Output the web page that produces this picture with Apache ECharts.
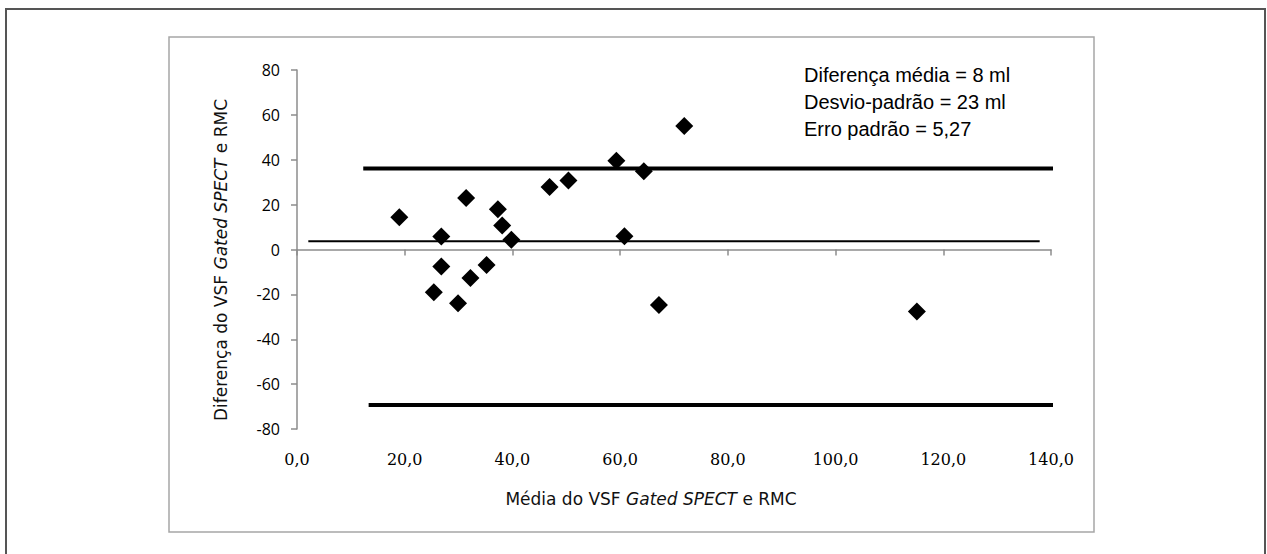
<!DOCTYPE html>
<html>
<head>
<meta charset="utf-8">
<title>Bland-Altman VSF</title>
<script src="https://cdn.jsdelivr.net/npm/echarts@6/dist/echarts.min.js"></script>
<style>
    html, body {margin: 0; padding: 0; background: #fff;}
    #chart01 {width: 1267px; height: 554px;}
</style>
</head>
<body>
<div id="chart01"></div>
<script>
// pontos: media (x) e diferenca (y)
var meanX = [19.0, 26.8, 26.8, 25.4, 29.9, 31.4, 32.2, 35.2, 37.3, 38.1, 39.8, 46.9, 50.4, 59.3, 60.8, 64.4, 67.2, 71.9, 115.1];
var diffY = [14.4, 5.8, -7.6, -19.1, -24.0, 22.9, -12.7, -6.9, 17.9, 10.7, 4.3, 27.9, 30.8, 39.5, 5.9, 34.9, -24.7, 55.0, -27.6];

// linhas horizontais (inicio e fim)
var meanLineX = [2.1, 137.9];
var meanLineY = [3.7, 3.7];
var upperLineX = [12.3, 149.5];
var upperLineY = [36.1, 36.1];
var lowerLineX = [13.3, 149.5];
var lowerLineY = [-69.3, -69.3];

var notes = ['Diferença média = 8 ml', 'Desvio-padrão = 23 ml', 'Erro padrão = 5,27'];

var chart01 = echarts.init(document.getElementById("chart01"), null, {renderer: 'svg'});

function pairs(xs, ys) {
    var out = [];
    for (var i = 0; i < xs.length; i++) {
        out.push([xs[i], ys[i]]);
    }
    return out;
}

function hLine(xs, ys, width) {
    return {
        type: 'line',
        data: pairs(xs, ys),
        symbol: 'none',
        clip: false,
        silent: true,
        lineStyle: {color: '#000', width: width, opacity: 1},
        z: 1
    };
}

var axisGray = '#8c8c8c';
var titleRich = {
    a: {fontFamily: 'DejaVu Sans', fontSize: 17, color: '#111'},
    b: {fontFamily: 'DejaVu Sans', fontSize: 17, color: '#111', fontStyle: 'italic'}
};

var noteGraphics = [];
for (var i = 0; i < notes.length; i++) {
    noteGraphics.push({
        type: 'text',
        x: 804,
        y: 75 + i * 27,
        style: {
            text: notes[i],
            fontFamily: 'Liberation Sans',
            fontSize: 20,
            fill: '#000',
            verticalAlign: 'middle'
        }
    });
}

var option = {
    backgroundColor: '#fff',
    animation: false,
    grid: {left: 297, right: 216, top: 70, bottom: 125},
    xAxis: {
        type: 'value',
        min: 0,
        max: 140,
        interval: 20,
        splitLine: {show: false},
        axisLine: {lineStyle: {color: axisGray, width: 1.5}},
        axisTick: {length: 6, lineStyle: {color: axisGray, width: 1.5}},
        axisLabel: {
            margin: 22,
            color: '#000',
            fontFamily: 'DejaVu Serif',
            fontSize: 16,
            formatter: function (v) {
                return v.toFixed(1).replace('.', ',');
            }
        },
        name: '{a|Média do VSF }{b|Gated SPECT}{a| e RMC}',
        nameLocation: 'middle',
        nameGap: 61,
        nameTextStyle: {rich: titleRich, padding: [0, 46, 0, 0]}
    },
    yAxis: {
        type: 'value',
        min: -80,
        max: 80,
        interval: 20,
        splitLine: {show: false},
        axisLine: {lineStyle: {color: axisGray, width: 1.5}},
        axisTick: {length: 6, lineStyle: {color: axisGray, width: 1.5}},
        axisLabel: {
            margin: 17,
            color: '#000',
            fontFamily: 'Open Sans',
            fontSize: 16
        },
        name: '{a|Diferença do VSF }{b|Gated SPECT}{a| e RMC}',
        nameLocation: 'middle',
        nameRotate: 90,
        nameGap: 68,
        nameTextStyle: {rich: titleRich, padding: [0, 21, 0, 0]}
    },
    graphic: [
        {
            type: 'rect',
            shape: {x: 6, y: 9, width: 1259, height: 560},
            style: {fill: 'none', stroke: '#555', lineWidth: 2},
            z: -10
        },
        {
            type: 'rect',
            shape: {x: 169, y: 37, width: 925, height: 495},
            style: {fill: 'none', stroke: '#a6a6a6', lineWidth: 1.5},
            z: -10
        }
    ].concat(noteGraphics),
    series: [
        hLine(meanLineX, meanLineY, 2),
        hLine(upperLineX, upperLineY, 4),
        hLine(lowerLineX, lowerLineY, 4),
        {
            type: 'scatter',
            data: pairs(meanX, diffY),
            symbol: 'diamond',
            symbolSize: 18,
            itemStyle: {color: '#000', opacity: 1},
            z: 3
        }
    ]
};

if (option && typeof option === "object") {
    chart01.setOption(option, true);
}
</script>
</body>
</html>
